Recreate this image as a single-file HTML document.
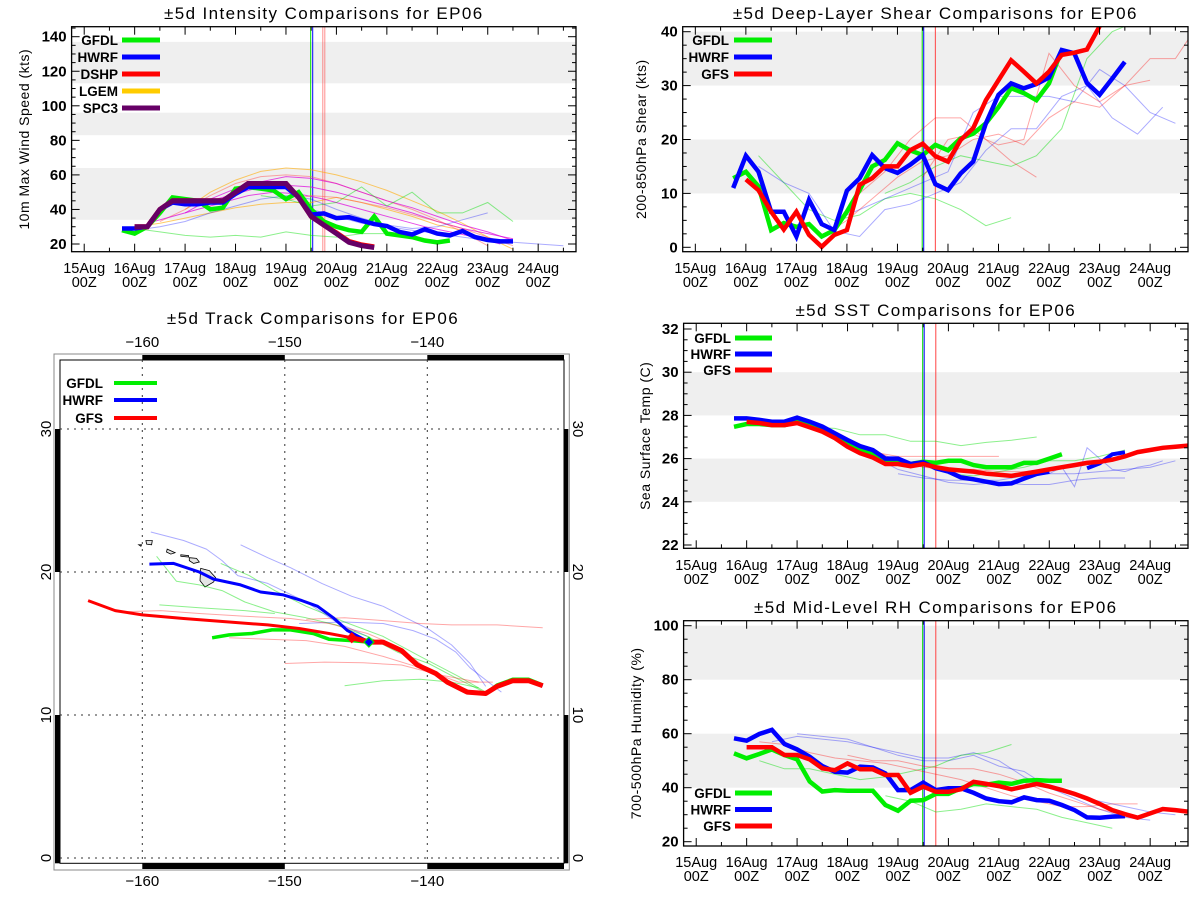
<!DOCTYPE html>
<html><head><meta charset="utf-8"><title>EP06 Comparisons</title>
<style>
html,body{margin:0;padding:0;background:#fff;}
svg{display:block;font-family:"Liberation Sans",sans-serif;}
</style></head>
<body>
<svg id="chart" width="1200" height="900" viewBox="0 0 1200 900" xmlns="http://www.w3.org/2000/svg"></svg>
<script>
// ---------- Intensity (kts) ----------
const hwrfIntStart=15.75;
const hwrfInt=[29,29,30,40,44,43,43,44,44,49,53,53,53,53,47,37,37.7,35,35.5,33.5,31.5,30.4,27,25.5,28.5,26,25,27.5,24,22.3,21.5,21.5];
const gfdlIntStart=15.75;
const gfdlInt=[28,26,30,38,47,46,45,40,41,52,53,52,51,46,50,40,33,30,28,27,36,26,25,24,22,21,22];
const spc3IntStart=16.0;
const spc3Int=[30,30,40,45,45,45,45,45,50,55,55,55,55,47,36,31,26,21,19,18];
const dshpIntStart=16.0;
const dshpInt=[30,30,40,45,45,45,45,45,50,55,55,55,55,47,36,31,26.5,21.5,19.5,18.3];
const intThinStarts=[17.0,16.0,16.5,17.0,17.5,16.25,19.0,16.0,18.5,16.0,19.5];
const intThinKinds=['orange','orange','pink','magenta','magenta','magenta','pink','green','green','blue','blue'];
const intThinVals=[
 [40,50,57,62,64,63,60,56,51,45,39,32,24,17],
 [30,32,35,38,41,43,44,44,47,44,40,36,31,28],
 [33,40,48,55,59,60,59,55,50,45,40,34,27,19],
 [38,46,52,56,59,58,55,50,45,41,36,31,27,22],
 [45,49,53,54,53,50,46,42,38,33,29,26,23],
 [32,36,40,44,48,50,49,46,42,38,34,30,27,24,20],
 [45,48,47,44,41,37,33,29,24,19],
 [29,27,25,24,25,24,27,25,24,26,26],
 [48,46,42,44,53,42,50,38,38,44,33],
 [28,30,33,38,42,46,48,46,40,35,31,29,30,34,38],
 [40,36,32,30,28,26,24,22,21,20,19]
];
// ---------- Shear (kts) ----------
const hwrfShrStart=15.75;
const hwrfShr=[11,17,14,6.6,6.6,2,8.8,4.3,3.2,10.5,12.8,17.1,14.7,13.8,15.3,17.1,11.7,10.6,13.7,15.9,23,28.3,30.4,29.5,30.3,31.5,36.6,36,30.5,28.3,31.3,34.4];
const gfdlShrStart=15.75;
const gfdlShr=[12.8,14,11.3,3.2,4.5,3.8,4.3,2,3.2,6.6,10.6,15,16.2,19.3,18,17.1,19,18,20.2,21.1,23,26,29.5,28.6,27.3,30.4,36.6];
const gfsShrStart=16.0;
const gfsShr=[12.6,10.6,6.6,3.3,6.6,2.3,0.1,2.3,3.2,11.6,12.8,15,15,18,19.2,16.9,15.9,19.9,22.1,27.3,31,34.7,32.6,30.4,32.6,35.7,36.1,36.7,41];
const shrThinStarts=[16.25,18.75,16.25,18.0,18.25,19.5,17.5];
const shrThinKinds=['green','green','blue','blue','red','red','red'];
const shrThinVals=[
 [17,12,7,5,6,9,10,9,7,4,5.5],
 [10,12,15,17,16,15,17,22,35,40,42],
 [15,12,10,3,2,7,8,10,12,18,22,22,28,30,24,21,26],
 [6,8,10,12,14,25,28,28,28,27,33,30,25,23],
 [10,14,20,24,24,20,16,13],
 [13,20,21,19,20,36,30,27,30,35,35,42],
 [2,5,9,13,16,17,20,21,19,24,27,26,30,31]
];
// ---------- SST (C) ----------
const hwrfSstStart=15.75;
const hwrfSst=[27.86,27.86,27.79,27.71,27.71,27.9,27.71,27.48,27.17,26.86,26.58,26.4,26.0,26.0,25.75,25.83,25.55,25.4,25.13,25.04,24.93,24.82,24.85,25.08,25.29,25.4];
const hwrfSst2Start=22.75;
const hwrfSst2=[25.55,25.78,26.2,26.29];
const gfdlSstStart=15.75;
const gfdlSst=[27.47,27.6,27.6,27.55,27.55,27.7,27.55,27.35,27.05,26.75,26.45,26.25,25.9,25.9,25.75,25.85,25.8,25.9,25.9,25.7,25.6,25.6,25.6,25.8,25.8,26.0,26.2];
const gfsSstStart=16.0;
const gfsSst=[27.7,27.65,27.55,27.55,27.65,27.45,27.25,26.95,26.55,26.25,26.05,25.75,25.75,25.65,25.75,25.6,25.5,25.45,25.4,25.3,25.25,25.2,25.3,25.4,25.5,25.6,25.7,25.8,25.85,25.95,26.1,26.3,26.4,26.5,26.55,26.6];
const sstThinStarts=[17.25,20.0,18.5,19.0,18.5,17.5];
const sstThinKinds=['green','green','blue','blue','red','red'];
const sstThinVals=[
 [27.45,27.4,27.1,27.1,26.8,26.8,26.6,26.75,26.85,27.0],
 [25.3,25.2,25.4,25.6,25.9,25.9,26.1,26.4],
 [26.1,25.5,25.2,24.9,24.8,24.9,24.8,24.8,25.0,25.1,25.1],
 [25.3,25.1,25.0,25.0,25.0,25.2,25.3,25.3,25.4,25.5,25.6,25.9],
 [26.3,26.1,26.1,26.1,26.1,26.1],
 [27.2,26.9,26.4,25.9,25.6,25.5,25.5,25.4,25.4,25.5,25.7]
];
const sstWiggleStart=22.0;
const sstWiggle=[25.3,25.6,24.7,26.5,26.0,25.5,25.4,25.6,25.7,25.9];
// ---------- RH (%) ----------
const hwrfRhStart=15.75;
const hwrfRh=[58.3,57.4,59.9,61.4,56.2,54.2,51.5,48,45.9,45.6,47.8,47.5,45.3,39.1,39.1,41.9,39.1,39.8,39.8,38.1,36,35,34.6,36.4,35.4,35.2,33.6,31.7,29,28.9,29.3,29.5];
const gfdlRhStart=15.75;
const gfdlRh=[52.7,50.9,52.5,54.2,52.1,50.5,42.3,38.6,39.1,38.9,38.9,38.9,33.6,31.5,35.2,35.4,37.7,37.7,39.8,41.4,41.1,41.9,41.4,42.6,42.8,42.6,42.6];
const gfsRhStart=16.0;
const gfsRh=[55,55,55,52.1,52.1,50.5,47.2,46.5,49,46.8,46.8,44.7,44.7,38.1,40.4,38.5,38.5,39.4,42.2,41.4,40.6,39.4,40.4,41.4,40.4,39.1,37.7,36,34,31.7,30.2,28.9,30.5,32.1,31.7,31.1];
const rhThinStarts=[16.5,17.0,16.25,18.75,16.25,18.0];
const rhThinKinds=['blue','blue','green','green','red','red'];
const rhThinVals=[
 [57,59,58,57,55,53,51,51,53,50,44,40,37,35,33,31,30],
 [60,59,58,55,52,50,50,52,48,46,40,36,32,29,28],
 [50,47,47,45,43,44,46,48,52,53,56],
 [37,35,31,32,34,33,32,29,27,25],
 [57,56,53,51,50,49,47,45,43,40,37,35,33,33,34,34],
 [52,50,50,48,47,47,45,42,38,35,32,30]
];
// ---------- Track (lon, lat) ----------
const gfsLon=[-163.8,-161.9,-160,-157.1,-153.9,-151.2,-149.0,-146.9,-145.3,-144.0,-143.1,-141.8,-140.7,-139.4,-138.6,-137.2,-135.9,-135.1,-134.0,-132.9,-131.9];
const gfsLat=[18.0,17.3,17.0,16.75,16.5,16.3,16.05,15.7,15.4,15.1,15.1,14.5,13.5,12.9,12.3,11.6,11.5,12.0,12.4,12.4,12.05];
const hwrfLon=[-159.5,-157.8,-156.0,-155.0,-153.1,-151.7,-150.1,-148.8,-147.7,-146.6,-145.6,-144.1,-143.1,-141.8,-140.7,-139.4,-138.6,-137.2,-135.9,-135.1,-134.0,-132.9,-131.9];
const hwrfLat=[20.55,20.6,20.0,19.5,19.1,18.6,18.4,18.0,17.6,16.8,15.9,15.1,15.1,14.5,13.5,12.9,12.3,11.6,11.5,12.0,12.4,12.4,12.05];
const gfdlLon=[-155.1,-153.9,-152.3,-150.9,-149.6,-148.0,-146.9,-145.3,-144.1,-143.1,-141.8,-140.7,-139.4,-138.6,-137.2,-135.9,-135.1,-134.0,-132.9,-131.9];
const gfdlLat=[15.4,15.6,15.7,15.95,15.95,15.7,15.3,15.2,15.1,15.1,14.5,13.5,12.9,12.3,11.6,11.5,12.1,12.5,12.5,12.1];
const trkThinKinds=['blue','blue','blue','green','green','green','green','red','red','red','red'];
const trkThinLon=[
 [-159.4,-157.1,-155.5,-154.4,-153.3,-151.2,-148.5,-146.4,-144.2],
 [-153.1,-151.2,-149.6,-147.4,-145.3,-143.1,-141.5,-139.9,-138.3,-137.0,-135.9],
 [-149.0,-145.8,-143.1,-141.0,-139.4,-138.0,-137.0,-134.8],
 [-159.0,-157.6,-156.0,-154.4,-152.8,-150.7,-148.5,-146.4,-144.2,-142.1,-139.9,-137.8,-136.2],
 [-154.5,-152.5,-150.7,-148.5,-145.8,-143.1,-140.5,-137.8,-135.9],
 [-158.8,-156.0,-152.8,-150.7],
 [-145.8,-143.1,-140.5,-138.3,-136.4],
 [-161.8,-158.7,-156.0,-152.8,-149.6,-146.9,-144.2,-142.1,-140.5,-139.1,-137.0],
 [-153.9,-151.2,-148.5,-145.8,-143.1,-140.5,-137.8,-135.4],
 [-150.0,-147.2,-144.5,-141.8,-139.1,-136.4],
 [-148.5,-145.8,-143.1,-140.5,-138.3,-135.1,-131.9]
];
const trkThinLat=[
 [22.8,22.2,21.6,20.8,19.75,19.2,17.9,16.5,15.5],
 [21.9,21.0,20.3,19.2,18.3,17.6,16.8,16.0,14.9,13.6,12.0],
 [16.4,16.5,16.4,15.9,15.3,14.4,13.3,11.6],
 [21.1,19.35,19.1,18.7,17.9,17.2,16.8,16.3,15.5,14.4,13.6,12.5,11.7],
 [20.6,19.75,18.7,17.6,16.5,15.5,14.1,12.7,11.6],
 [17.7,17.5,17.3,17.1],
 [12.05,12.4,12.5,12.3,11.9],
 [17.2,17.3,17.1,16.9,16.75,16.4,15.7,14.8,13.6,12.5,11.7],
 [15.4,15.3,15.2,14.8,14.1,13.3,12.3,12.3],
 [13.6,13.7,13.65,13.5,12.8,12.3],
 [16.7,16.8,16.6,16.4,16.3,16.3,16.1]
];

const NS='http://www.w3.org/2000/svg';
const svg=document.getElementById('chart');
function mk(tag,attrs,parent){const e=document.createElementNS(NS,tag);for(const k in attrs)e.setAttribute(k,attrs[k]);(parent||svg).appendChild(e);return e;}
function txt(x,y,s,size,anchor,parent,extra){const t=mk('text',Object.assign({x:x,y:y,'font-size':size,'text-anchor':anchor||'middle',fill:'#000'},extra||{}),parent);t.textContent=s;return t;}
const THIN={green:['#00dd00',0.45],blue:['#0000ff',0.33],red:['#ff0000',0.35],orange:['#ffaa00',0.6],magenta:['#dd00dd',0.7],pink:['#ff5555',0.5]};

function makePanel(id,cfg){
  const g=mk('g',{});
  
  
  const xs=d=>cfg.L+(d-14.75)*(cfg.R-cfg.L)/10;
  const ys=v=>cfg.p0+(v-cfg.v0)*(cfg.p1-cfg.p0)/(cfg.v1-cfg.v0);
  const cp=mk('clipPath',{id:'clip-'+id},g);
  mk('rect',{x:cfg.L,y:cfg.T,width:cfg.R-cfg.L,height:cfg.B-cfg.T},cp);
  cfg.bands.forEach(b=>{
    const y1=Math.max(cfg.T,ys(b[1])),y2=Math.min(cfg.B,ys(b[0]));
    const r=mk('rect',{x:cfg.L,y:y1,width:cfg.R-cfg.L,height:y2-y1,fill:'#efefef'},g);
    
    
  });
  const plot=mk('g',{'clip-path':'url(#clip-'+id+')'},g);
  
  
  cfg.vlines.forEach(v=>{
    const l=mk('line',{x1:xs(v[0]),x2:xs(v[0]),y1:cfg.T,y2:cfg.B,stroke:v[1],'stroke-width':1,'stroke-opacity':v[2]},plot);
    
    
  });
  function series(start,step,vals,color,w,op,name){
    const pts=vals.map((v,i)=>xs(start+i*step).toFixed(1)+','+ys(v).toFixed(1)).join(' ');
    const p=mk('polyline',{points:pts,fill:'none',stroke:color,'stroke-width':w,'stroke-opacity':op,'stroke-linejoin':'miter'},plot);
    
    
    return p;
  }
  cfg.thin.starts.forEach((s,i)=>{const c=THIN[cfg.thin.kinds[i]];series(s,cfg.thin.step||0.5,cfg.thin.vals[i],c[0],1,c[1],cfg.thin.kinds[i]+'-thin-line');});
  (cfg.extraThin||[]).forEach(t=>{const c=THIN[t[3]];series(t[0],t[1],t[2],c[0],1,c[1],t[3]+'-thin-line');});
  cfg.thick.forEach(t=>series(t[0],0.25,t[1],t[2],t[3]||4.5,1,t[4]));
  const fr=mk('rect',{x:cfg.L,y:cfg.T,width:cfg.R-cfg.L,height:cfg.B-cfg.T,fill:'none',stroke:'#000','stroke-width':1.3},g);
  
  
  const mstep=cfg.ystep/4;
  for(let v=Math.ceil(cfg.vmin/mstep)*mstep;v<=cfg.vmax+1e-9;v+=mstep){
    const y=ys(v);if(y<cfg.T-0.5||y>cfg.B+0.5)continue;
    const major=Math.abs(v/cfg.ystep-Math.round(v/cfg.ystep))<1e-6;
    const len=major?8:4;
    mk('line',{x1:cfg.L,x2:cfg.L+len,y1:y,y2:y,stroke:'#000','stroke-width':1},g);
    mk('line',{x1:cfg.R,x2:cfg.R-len,y1:y,y2:y,stroke:'#000','stroke-width':1},g);
  }
  cfg.ylabels.forEach(v=>{const t=txt(cfg.L-5,ys(v)+5,String(v),15,'end',g,{'font-weight':'bold'});
    
    });
  for(let d=15;d<=24.5;d+=0.5){
    const x=xs(d);const major=(d%1===0);const len=major?8:4;
    mk('line',{x1:x,x2:x,y1:cfg.B,y2:cfg.B-len,stroke:'#000','stroke-width':1},g);
    mk('line',{x1:x,x2:x,y1:cfg.T,y2:cfg.T+len,stroke:'#000','stroke-width':1},g);
    if(major){
      const t1=txt(x,cfg.xl1,(d)+'Aug',14.5,'middle',g);
      
      
      const t2=txt(x,cfg.xl1+14,'00Z',14.5,'middle',g);
      
      
    }
  }
  const tt=txt((cfg.L+cfg.R)/2+cfg.tdx,cfg.ty,cfg.title,17,'middle',g,{'letter-spacing':'1.4'});
  
  
  const yt=txt(0,0,cfg.ytitle,14,'middle',g,{transform:'translate('+cfg.ytx+','+((cfg.T+cfg.B)/2)+') rotate(-90)','letter-spacing':'0.5'});
  
  
  cfg.legend.forEach((e,i)=>{
    const y=cfg.legY+i*cfg.legDy;
    const t=txt(cfg.legTx,y+5,e[0],13.5,'end',g,{'font-weight':'bold'});
    
    
    const l=mk('line',{x1:cfg.legX1,x2:cfg.legX2,y1:y,y2:y,stroke:e[1],'stroke-width':5},g);
    
    
  });
}

const VL1=[[19.49,'#00dd00',1],[19.53,'#0000ff',1],[19.73,'#ff4444',0.6],[19.77,'#ff4444',0.6]];
const VL=[[19.49,'#00dd00',1],[19.52,'#0000ff',1],[19.75,'#ff4444',1]];

makePanel('intensity',{L:71.6,R:576,T:26.7,B:251.7,p0:244,v0:20,p1:36.7,v1:140,vmin:15,vmax:146,ystep:20,
  ylabels:[20,40,60,80,100,120,140],bands:[[34,64],[83,96],[113,137]],vlines:VL1,
  thin:{starts:intThinStarts,kinds:intThinKinds,vals:intThinVals},
  thick:[[gfdlIntStart,gfdlInt,'#00ee00',4.5,'gfdl-intensity-line'],[hwrfIntStart,hwrfInt,'#0000ff',4.5,'hwrf-intensity-line'],
         [dshpIntStart,dshpInt,'#ff0000',5,'dshp-intensity-line'],[spc3IntStart,spc3Int,'#660066',5,'spc3-intensity-line']],
  xl1:273,title:'±5d Intensity Comparisons for EP06',tdx:0,ty:19,ytitle:'10m Max Wind Speed (kts)',ytx:29,
  legend:[['GFDL','#00ee00'],['HWRF','#0000ff'],['DSHP','#ff0000'],['LGEM','#ffcc00'],['SPC3','#660066']],
  legY:40,legDy:17,legTx:118,legX1:122,legX2:160});

makePanel('shear',{L:682.7,R:1188,T:26.7,B:251.7,p0:247.3,v0:0,p1:31.7,v1:40,vmin:-1,vmax:41,ystep:10,
  ylabels:[0,10,20,30,40],bands:[[10,20],[30,40]],vlines:VL,
  thin:{starts:shrThinStarts,kinds:shrThinKinds,vals:shrThinVals},
  thick:[[gfdlShrStart,gfdlShr,'#00ee00',4.5,'gfdl-shear-line'],[hwrfShrStart,hwrfShr,'#0000ff',4.5,'hwrf-shear-line'],[gfsShrStart,gfsShr,'#ff0000',4.5,'gfs-shear-line']],
  xl1:273,title:'±5d Deep-Layer Shear Comparisons for EP06',tdx:0,ty:19,ytitle:'200-850hPa Shear (kts)',ytx:646,
  legend:[['GFDL','#00ee00'],['HWRF','#0000ff'],['GFS','#ff0000']],
  legY:40,legDy:17,legTx:729,legX1:734,legX2:772});

makePanel('sst',{L:683.6,R:1188,T:323.3,B:548.3,p0:545,v0:22,p1:329,v1:32,vmin:21.8,vmax:32.3,ystep:2,
  ylabels:[22,24,26,28,30,32],bands:[[24,26],[28,30]],vlines:VL,
  thin:{starts:sstThinStarts,kinds:sstThinKinds,vals:sstThinVals},
  extraThin:[[sstWiggleStart,0.25,sstWiggle,'blue']],
  thick:[[gfdlSstStart,gfdlSst,'#00ee00',4.5,'gfdl-sst-line'],[hwrfSstStart,hwrfSst,'#0000ff',4.5,'hwrf-sst-line'],[hwrfSst2Start,hwrfSst2,'#0000ff',4,'hwrf-sst-line-late'],[gfsSstStart,gfsSst,'#ff0000',4.5,'gfs-sst-line']],
  xl1:570,title:'±5d SST Comparisons for EP06',tdx:0,ty:316,ytitle:'Sea Surface Temp (C)',ytx:650,
  legend:[['GFDL','#00ee00'],['HWRF','#0000ff'],['GFS','#ff0000']],
  legY:338,legDy:16,legTx:731,legX1:735,legX2:772});

makePanel('rh',{L:683.6,R:1188,T:620.7,B:846,p0:841.7,v0:20,p1:625.7,v1:100,vmin:18,vmax:102,ystep:20,
  ylabels:[20,40,60,80,100],bands:[[40,60],[80,100]],vlines:VL,
  thin:{starts:rhThinStarts,kinds:rhThinKinds,vals:rhThinVals},
  thick:[[gfdlRhStart,gfdlRh,'#00ee00',4.5,'gfdl-rh-line'],[hwrfRhStart,hwrfRh,'#0000ff',4.5,'hwrf-rh-line'],[gfsRhStart,gfsRh,'#ff0000',4.5,'gfs-rh-line']],
  xl1:867,title:'±5d Mid-Level RH Comparisons for EP06',tdx:0,ty:613,ytitle:'700-500hPa Humidity (%)',ytx:641,
  legend:[['GFDL','#00ee00'],['HWRF','#0000ff'],['GFS','#ff0000']],
  legY:793,legDy:16.5,legTx:731,legX1:735,legX2:772});

(function(){
  const g=mk('g',{});
  
  
  const OL=54,OR=569.3,OT=354,OB=870,IL=60,IR=564,IT=360,IB=863.3;
  const lx=lon=>142.3+(lon+160)*14.25;
  const ly=lat=>429-(lat-30)*14.3;
  mk('rect',{x:OL,y:OT,width:OR-OL,height:OB-OT,fill:'none',stroke:'#888','stroke-width':1},g);
  mk('rect',{x:IL,y:IT,width:IR-IL,height:IB-IT,fill:'none',stroke:'#000','stroke-width':1},g);
  [[lx(-160),lx(-150)],[lx(-140),IR]].forEach(s=>{
    mk('rect',{x:s[0],y:OT+1,width:s[1]-s[0],height:IT-OT-1,fill:'#000'},g);
    mk('rect',{x:s[0],y:IB,width:s[1]-s[0],height:OB-IB-1,fill:'#000'},g);
  });
  [[ly(30),ly(20)],[ly(10),IB]].forEach(s=>{
    mk('rect',{x:OL+1,y:s[0],width:IL-OL-1,height:s[1]-s[0],fill:'#000'},g);
    mk('rect',{x:IR,y:s[0],width:OR-IR-1,height:s[1]-s[0],fill:'#000'},g);
  });
  [-160,-150,-140].forEach(lon=>{
    const l=mk('line',{x1:lx(lon),x2:lx(lon),y1:IT,y2:IB,stroke:'#333','stroke-width':1,'stroke-dasharray':'2,5'},g);
    
    
    const a=txt(lx(lon),347,String(lon).replace('-','\u2212'),15,'middle',g);
    
    
    const b=txt(lx(lon),886,String(lon).replace('-','\u2212'),15,'middle',g);
    
    
  });
  [0,10,20,30].forEach(lat=>{
    const l=mk('line',{x1:IL,x2:IR,y1:ly(lat),y2:ly(lat),stroke:'#333','stroke-width':1,'stroke-dasharray':'2,5'},g);
    
    
    const a=txt(0,0,String(lat),15,'middle',g,{transform:'translate(51,'+ly(lat)+') rotate(-90)'});
    
    
    const b=txt(0,0,String(lat),15,'middle',g,{transform:'translate(573,'+ly(lat)+') rotate(90)'});
    
    
  });
  const isl=[
    [[-155.9,20.25],[-155.3,20.1],[-154.85,19.6],[-155.0,19.3],[-155.6,18.95],[-155.95,19.4]],
    [[-156.7,21.0],[-156.2,20.95],[-156.0,20.7],[-156.4,20.6],[-156.7,20.8]],
    [[-157.3,21.2],[-156.75,21.15],[-156.75,21.05],[-157.3,21.1]],
    [[-158.25,21.6],[-157.7,21.35],[-158.0,21.25],[-158.3,21.4]],
    [[-159.75,22.2],[-159.3,22.2],[-159.35,21.9],[-159.7,21.95]],
    [[-160.25,21.9],[-160.05,21.9],[-160.1,21.8]]
  ];
  isl.forEach(p=>{
    const e=mk('polygon',{points:p.map(q=>lx(q[0]).toFixed(1)+','+ly(q[1]).toFixed(1)).join(' '),fill:'#e4e4e4',stroke:'#000','stroke-width':0.8},g);
    
    
  });
  const cp=mk('clipPath',{id:'clip-track'},g);
  mk('rect',{x:IL,y:IT,width:IR-IL,height:IB-IT},cp);
  const plot=mk('g',{'clip-path':'url(#clip-track)'},g);
  function trk(lons,lats,color,w,op,name){
    const p=mk('polyline',{points:lons.map((lo,i)=>lx(lo).toFixed(1)+','+ly(lats[i]).toFixed(1)).join(' '),fill:'none',stroke:color,'stroke-width':w,'stroke-opacity':op,'stroke-linejoin':'round'},plot);
    
    
  }
  trkThinLon.forEach((lo,i)=>{const c=THIN[trkThinKinds[i]];trk(lo,trkThinLat[i],c[0],1,c[1],trkThinKinds[i]+'-thin-track');});
  trk(gfdlLon,gfdlLat,'#00ee00',3.5,1,'gfdl-track');
  trk(hwrfLon,hwrfLat,'#0000ff',3,1,'hwrf-track');
  trk(gfsLon.slice(8),gfsLat.slice(8),'#ff0000',5,1,'gfs-track-thick');
  trk(gfsLon.slice(0,9),gfsLat.slice(0,9),'#ff0000',3,1,'gfs-track');
  const d1=mk('rect',{x:lx(-145.3)-4,y:ly(15.4)-4,width:8,height:8,fill:'#ff0000',transform:'rotate(45 '+lx(-145.3)+' '+ly(15.4)+')'},g);
  
  
  const d2=mk('rect',{x:lx(-144.1)-3.5,y:ly(15.1)-3.5,width:7,height:7,fill:'#0000ff',stroke:'#00ee00','stroke-width':1.2,transform:'rotate(45 '+lx(-144.1)+' '+ly(15.1)+')'},g);
  
  
  const tt=txt(313,324,'±5d Track Comparisons for EP06',17,'middle',g,{'letter-spacing':'1.4'});
  
  
  [['GFDL','#00ee00',383],['HWRF','#0000ff',400],['GFS','#ff0000',418]].forEach(e=>{
    const t=txt(103,e[2]+5,e[0],13.5,'end',g,{'font-weight':'bold'});
    
    
    const l=mk('line',{x1:114,x2:157,y1:e[2],y2:e[2],stroke:e[1],'stroke-width':4},g);
    
    
  });
})();
</script>
</body></html>
